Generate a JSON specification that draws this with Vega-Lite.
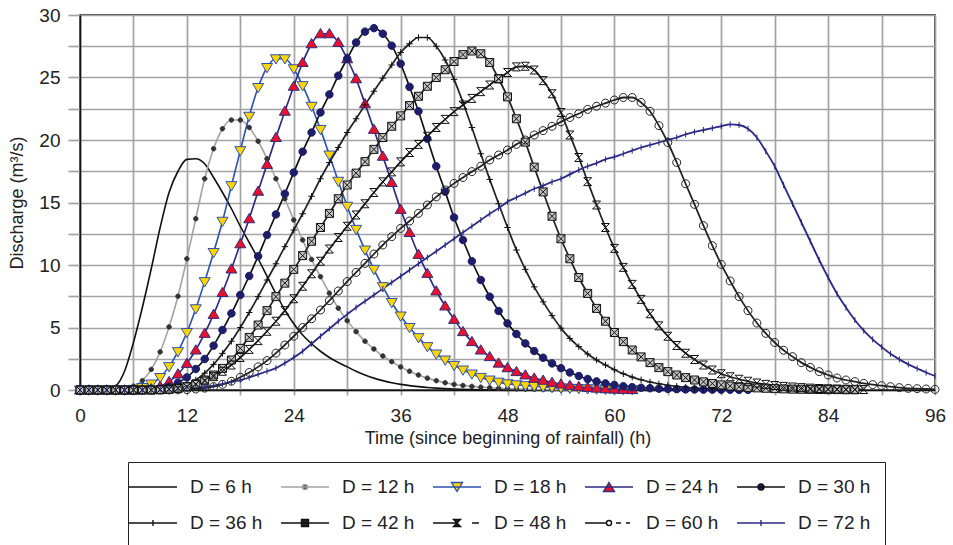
{
"$schema":"https://vega.github.io/schema/vega-lite/v6.json",
"width":855,"height":375,
"autosize":{"type":"none"},
"padding":{"left":80,"top":15,"right":18,"bottom":155},
"config":{"font":"Liberation Sans","view":{"stroke":"#111","strokeWidth":1.5},
"axis":{"gridColor":"#a3a3a3","gridWidth":1.7,"tickColor":"#a3a3a3","tickWidth":1.7,"domainColor":"#111","domainWidth":1.5,"labelFontSize":19,"labelColor":"#222","titleFontSize":18,"titleFontWeight":"normal","titleColor":"#222","labelFont":"Liberation Sans","titleFont":"Liberation Sans"}},
"data":{"values":[
{"D":6,"t":0,"q":0},{"D":6,"t":1,"q":0},{"D":6,"t":2,"q":0},{"D":6,"t":3,"q":0},{"D":6,"t":4,"q":0.3},{"D":6,"t":5,"q":1.5},{"D":6,"t":6,"q":3.8},{"D":6,"t":7,"q":6.6},{"D":6,"t":8,"q":9.7},{"D":6,"t":9,"q":13.0},{"D":6,"t":10,"q":15.8},{"D":6,"t":11,"q":17.5},{"D":6,"t":12,"q":18.45},{"D":6,"t":13,"q":18.5},{"D":6,"t":14,"q":18.1},{"D":6,"t":15,"q":17.0},{"D":6,"t":16,"q":15.8},{"D":6,"t":17,"q":14.5},{"D":6,"t":18,"q":13.1},{"D":6,"t":19,"q":11.8},{"D":6,"t":20,"q":10.5},{"D":6,"t":21,"q":9.1},{"D":6,"t":22,"q":7.7},{"D":6,"t":23,"q":6.4},{"D":6,"t":24,"q":5.3},{"D":6,"t":25,"q":4.4},{"D":6,"t":26,"q":3.7},{"D":6,"t":27,"q":3.1},{"D":6,"t":28,"q":2.6},{"D":6,"t":29,"q":2.2},{"D":6,"t":30,"q":1.85},{"D":6,"t":31,"q":1.5},{"D":6,"t":32,"q":1.2},{"D":6,"t":33,"q":0.95},{"D":6,"t":34,"q":0.75},{"D":6,"t":35,"q":0.58},{"D":6,"t":36,"q":0.45},{"D":6,"t":37,"q":0.35},{"D":6,"t":38,"q":0.27},{"D":6,"t":39,"q":0.2},{"D":6,"t":40,"q":0.15},{"D":6,"t":42,"q":0.08},{"D":6,"t":44,"q":0.04},{"D":6,"t":46,"q":0.02},{"D":6,"t":48,"q":0.01},{"D":6,"t":50,"q":0},
{"D":12,"t":0,"q":0},{"D":12,"t":1,"q":0},{"D":12,"t":2,"q":0},{"D":12,"t":3,"q":0},{"D":12,"t":4,"q":0},{"D":12,"t":5,"q":0.1},{"D":12,"t":6,"q":0.3},{"D":12,"t":7,"q":0.75},{"D":12,"t":8,"q":1.65},{"D":12,"t":9,"q":3.05},{"D":12,"t":10,"q":5.05},{"D":12,"t":11,"q":7.5},{"D":12,"t":12,"q":10.5},{"D":12,"t":13,"q":13.7},{"D":12,"t":14,"q":16.9},{"D":12,"t":15,"q":19.3},{"D":12,"t":16,"q":20.9},{"D":12,"t":17,"q":21.6},{"D":12,"t":18,"q":21.6},{"D":12,"t":19,"q":21.0},{"D":12,"t":20,"q":19.9},{"D":12,"t":21,"q":18.5},{"D":12,"t":22,"q":16.9},{"D":12,"t":23,"q":15.3},{"D":12,"t":24,"q":13.6},{"D":12,"t":25,"q":12.0},{"D":12,"t":26,"q":10.45},{"D":12,"t":27,"q":9.07},{"D":12,"t":28,"q":7.75},{"D":12,"t":29,"q":6.55},{"D":12,"t":30,"q":5.55},{"D":12,"t":31,"q":4.67},{"D":12,"t":32,"q":3.9},{"D":12,"t":33,"q":3.28},{"D":12,"t":34,"q":2.72},{"D":12,"t":35,"q":2.27},{"D":12,"t":36,"q":1.85},{"D":12,"t":37,"q":1.5},{"D":12,"t":38,"q":1.2},{"D":12,"t":39,"q":0.95},{"D":12,"t":40,"q":0.75},{"D":12,"t":41,"q":0.58},{"D":12,"t":42,"q":0.45},{"D":12,"t":43,"q":0.36},{"D":12,"t":44,"q":0.29},{"D":12,"t":45,"q":0.23},{"D":12,"t":46,"q":0.18},{"D":12,"t":47,"q":0.14},{"D":12,"t":48,"q":0.11},{"D":12,"t":49,"q":0.09},{"D":12,"t":50,"q":0.07},{"D":12,"t":51,"q":0.05},{"D":12,"t":52,"q":0.04},{"D":12,"t":53,"q":0.03},{"D":12,"t":54,"q":0.03},{"D":12,"t":55,"q":0.02},{"D":12,"t":56,"q":0.02},{"D":12,"t":57,"q":0.01},{"D":12,"t":58,"q":0.01},{"D":12,"t":59,"q":0.01},{"D":12,"t":60,"q":0},
{"D":18,"t":0,"q":0},{"D":18,"t":1,"q":0},{"D":18,"t":2,"q":0},{"D":18,"t":3,"q":0},{"D":18,"t":4,"q":0},{"D":18,"t":5,"q":0},{"D":18,"t":6,"q":0.05},{"D":18,"t":7,"q":0.2},{"D":18,"t":8,"q":0.48},{"D":18,"t":9,"q":1.0},{"D":18,"t":10,"q":1.87},{"D":18,"t":11,"q":3.07},{"D":18,"t":12,"q":4.6},{"D":18,"t":13,"q":6.5},{"D":18,"t":14,"q":8.67},{"D":18,"t":15,"q":11.0},{"D":18,"t":16,"q":13.5},{"D":18,"t":17,"q":16.35},{"D":18,"t":18,"q":19.15},{"D":18,"t":19,"q":21.9},{"D":18,"t":20,"q":24.2},{"D":18,"t":21,"q":25.8},{"D":18,"t":22,"q":26.5},{"D":18,"t":23,"q":26.5},{"D":18,"t":24,"q":25.7},{"D":18,"t":25,"q":24.35},{"D":18,"t":26,"q":22.7},{"D":18,"t":27,"q":20.85},{"D":18,"t":28,"q":18.8},{"D":18,"t":29,"q":16.7},{"D":18,"t":30,"q":14.7},{"D":18,"t":31,"q":12.85},{"D":18,"t":32,"q":11.2},{"D":18,"t":33,"q":9.65},{"D":18,"t":34,"q":8.27},{"D":18,"t":35,"q":7.0},{"D":18,"t":36,"q":5.92},{"D":18,"t":37,"q":5.0},{"D":18,"t":38,"q":4.19},{"D":18,"t":39,"q":3.47},{"D":18,"t":40,"q":2.88},{"D":18,"t":41,"q":2.4},{"D":18,"t":42,"q":1.97},{"D":18,"t":43,"q":1.6},{"D":18,"t":44,"q":1.28},{"D":18,"t":45,"q":1.01},{"D":18,"t":46,"q":0.8},{"D":18,"t":47,"q":0.63},{"D":18,"t":48,"q":0.5},{"D":18,"t":49,"q":0.42},{"D":18,"t":50,"q":0.35},{"D":18,"t":51,"q":0.3},{"D":18,"t":52,"q":0.25},{"D":18,"t":53,"q":0.21},{"D":18,"t":54,"q":0.17},{"D":18,"t":55,"q":0.14},{"D":18,"t":56,"q":0.12},{"D":18,"t":57,"q":0.1},{"D":18,"t":58,"q":0.08},{"D":18,"t":59,"q":0.06},{"D":18,"t":60,"q":0.05},{"D":18,"t":61,"q":0.04},{"D":18,"t":62,"q":0.03},
{"D":24,"t":0,"q":0},{"D":24,"t":1,"q":0},{"D":24,"t":2,"q":0},{"D":24,"t":3,"q":0},{"D":24,"t":4,"q":0},{"D":24,"t":5,"q":0},{"D":24,"t":6,"q":0},{"D":24,"t":7,"q":0.03},{"D":24,"t":8,"q":0.1},{"D":24,"t":9,"q":0.3},{"D":24,"t":10,"q":0.67},{"D":24,"t":11,"q":1.28},{"D":24,"t":12,"q":2.13},{"D":24,"t":13,"q":3.2},{"D":24,"t":14,"q":4.53},{"D":24,"t":15,"q":6.05},{"D":24,"t":16,"q":7.8},{"D":24,"t":17,"q":9.68},{"D":24,"t":18,"q":11.7},{"D":24,"t":19,"q":13.7},{"D":24,"t":20,"q":15.9},{"D":24,"t":21,"q":18.05},{"D":24,"t":22,"q":20.2},{"D":24,"t":23,"q":22.3},{"D":24,"t":24,"q":24.3},{"D":24,"t":25,"q":26.2},{"D":24,"t":26,"q":27.7},{"D":24,"t":27,"q":28.5},{"D":24,"t":28,"q":28.5},{"D":24,"t":29,"q":27.8},{"D":24,"t":30,"q":26.5},{"D":24,"t":31,"q":24.9},{"D":24,"t":32,"q":22.9},{"D":24,"t":33,"q":20.85},{"D":24,"t":34,"q":18.7},{"D":24,"t":35,"q":16.6},{"D":24,"t":36,"q":14.45},{"D":24,"t":37,"q":12.6},{"D":24,"t":38,"q":10.85},{"D":24,"t":39,"q":9.33},{"D":24,"t":40,"q":7.92},{"D":24,"t":41,"q":6.72},{"D":24,"t":42,"q":5.65},{"D":24,"t":43,"q":4.67},{"D":24,"t":44,"q":3.87},{"D":24,"t":45,"q":3.2},{"D":24,"t":46,"q":2.67},{"D":24,"t":47,"q":2.15},{"D":24,"t":48,"q":1.78},{"D":24,"t":49,"q":1.47},{"D":24,"t":50,"q":1.2},{"D":24,"t":51,"q":0.95},{"D":24,"t":52,"q":0.78},{"D":24,"t":53,"q":0.61},{"D":24,"t":54,"q":0.48},{"D":24,"t":55,"q":0.37},{"D":24,"t":56,"q":0.28},{"D":24,"t":57,"q":0.21},{"D":24,"t":58,"q":0.15},{"D":24,"t":59,"q":0.1},{"D":24,"t":60,"q":0.07},{"D":24,"t":61,"q":0.05},{"D":24,"t":62,"q":0.03},
{"D":30,"t":0,"q":0},{"D":30,"t":1,"q":0},{"D":30,"t":2,"q":0},{"D":30,"t":3,"q":0},{"D":30,"t":4,"q":0},{"D":30,"t":5,"q":0},{"D":30,"t":6,"q":0},{"D":30,"t":7,"q":0},{"D":30,"t":8,"q":0.03},{"D":30,"t":9,"q":0.1},{"D":30,"t":10,"q":0.27},{"D":30,"t":11,"q":0.59},{"D":30,"t":12,"q":1.01},{"D":30,"t":13,"q":1.68},{"D":30,"t":14,"q":2.48},{"D":30,"t":15,"q":3.55},{"D":30,"t":16,"q":4.8},{"D":30,"t":17,"q":6.13},{"D":30,"t":18,"q":7.6},{"D":30,"t":19,"q":9.12},{"D":30,"t":20,"q":10.7},{"D":30,"t":21,"q":12.4},{"D":30,"t":22,"q":14.05},{"D":30,"t":23,"q":15.7},{"D":30,"t":24,"q":17.4},{"D":30,"t":25,"q":19.07},{"D":30,"t":26,"q":20.6},{"D":30,"t":27,"q":22.2},{"D":30,"t":28,"q":23.65},{"D":30,"t":29,"q":25.15},{"D":30,"t":30,"q":26.5},{"D":30,"t":31,"q":27.8},{"D":30,"t":32,"q":28.67},{"D":30,"t":33,"q":28.95},{"D":30,"t":34,"q":28.5},{"D":30,"t":35,"q":27.55},{"D":30,"t":36,"q":26.1},{"D":30,"t":37,"q":24.25},{"D":30,"t":38,"q":22.3},{"D":30,"t":39,"q":20.1},{"D":30,"t":40,"q":17.9},{"D":30,"t":41,"q":15.87},{"D":30,"t":42,"q":13.8},{"D":30,"t":43,"q":12.0},{"D":30,"t":44,"q":10.3},{"D":30,"t":45,"q":8.8},{"D":30,"t":46,"q":7.47},{"D":30,"t":47,"q":6.32},{"D":30,"t":48,"q":5.33},{"D":30,"t":49,"q":4.48},{"D":30,"t":50,"q":3.73},{"D":30,"t":51,"q":3.12},{"D":30,"t":52,"q":2.58},{"D":30,"t":53,"q":2.13},{"D":30,"t":54,"q":1.75},{"D":30,"t":55,"q":1.4},{"D":30,"t":56,"q":1.12},{"D":30,"t":57,"q":0.88},{"D":30,"t":58,"q":0.69},{"D":30,"t":59,"q":0.53},{"D":30,"t":60,"q":0.4},{"D":30,"t":61,"q":0.3},{"D":30,"t":62,"q":0.23},{"D":30,"t":63,"q":0.18},{"D":30,"t":64,"q":0.14},{"D":30,"t":65,"q":0.11},{"D":30,"t":66,"q":0.09},{"D":30,"t":67,"q":0.07},{"D":30,"t":68,"q":0.05},{"D":30,"t":69,"q":0.04},{"D":30,"t":70,"q":0.03},{"D":30,"t":71,"q":0.03},{"D":30,"t":72,"q":0.02},{"D":30,"t":73,"q":0.02},{"D":30,"t":74,"q":0.01},{"D":30,"t":75,"q":0.01},
{"D":36,"t":0,"q":0},{"D":36,"t":1,"q":0},{"D":36,"t":2,"q":0},{"D":36,"t":3,"q":0},{"D":36,"t":4,"q":0},{"D":36,"t":5,"q":0},{"D":36,"t":6,"q":0},{"D":36,"t":7,"q":0},{"D":36,"t":8,"q":0},{"D":36,"t":9,"q":0.02},{"D":36,"t":10,"q":0.08},{"D":36,"t":11,"q":0.2},{"D":36,"t":12,"q":0.42},{"D":36,"t":13,"q":0.8},{"D":36,"t":14,"q":1.35},{"D":36,"t":15,"q":2.05},{"D":36,"t":16,"q":2.93},{"D":36,"t":17,"q":3.9},{"D":36,"t":18,"q":5.0},{"D":36,"t":19,"q":6.2},{"D":36,"t":20,"q":7.47},{"D":36,"t":21,"q":8.8},{"D":36,"t":22,"q":10.1},{"D":36,"t":23,"q":11.47},{"D":36,"t":24,"q":12.8},{"D":36,"t":25,"q":14.1},{"D":36,"t":26,"q":15.5},{"D":36,"t":27,"q":16.9},{"D":36,"t":28,"q":18.2},{"D":36,"t":29,"q":19.4},{"D":36,"t":30,"q":20.6},{"D":36,"t":31,"q":21.7},{"D":36,"t":32,"q":22.8},{"D":36,"t":33,"q":23.9},{"D":36,"t":34,"q":24.95},{"D":36,"t":35,"q":26.0},{"D":36,"t":36,"q":27.0},{"D":36,"t":37,"q":27.7},{"D":36,"t":38,"q":28.2},{"D":36,"t":39,"q":28.2},{"D":36,"t":40,"q":27.5},{"D":36,"t":41,"q":26.4},{"D":36,"t":42,"q":24.85},{"D":36,"t":43,"q":23.0},{"D":36,"t":44,"q":21.0},{"D":36,"t":45,"q":18.9},{"D":36,"t":46,"q":16.85},{"D":36,"t":47,"q":14.9},{"D":36,"t":48,"q":13.0},{"D":36,"t":49,"q":11.2},{"D":36,"t":50,"q":9.65},{"D":36,"t":51,"q":8.25},{"D":36,"t":52,"q":7.05},{"D":36,"t":53,"q":5.95},{"D":36,"t":54,"q":4.95},{"D":36,"t":55,"q":4.13},{"D":36,"t":56,"q":3.47},{"D":36,"t":57,"q":2.88},{"D":36,"t":58,"q":2.4},{"D":36,"t":59,"q":2.0},{"D":36,"t":60,"q":1.62},{"D":36,"t":61,"q":1.3},{"D":36,"t":62,"q":1.03},{"D":36,"t":63,"q":0.82},{"D":36,"t":64,"q":0.64},{"D":36,"t":65,"q":0.5},{"D":36,"t":66,"q":0.38},{"D":36,"t":67,"q":0.29},{"D":36,"t":68,"q":0.22},{"D":36,"t":69,"q":0.16},{"D":36,"t":70,"q":0.12},{"D":36,"t":71,"q":0.09},{"D":36,"t":72,"q":0.07},
{"D":42,"t":0,"q":0},{"D":42,"t":1,"q":0},{"D":42,"t":2,"q":0},{"D":42,"t":3,"q":0},{"D":42,"t":4,"q":0},{"D":42,"t":5,"q":0},{"D":42,"t":6,"q":0},{"D":42,"t":7,"q":0},{"D":42,"t":8,"q":0},{"D":42,"t":9,"q":0.03},{"D":42,"t":10,"q":0.07},{"D":42,"t":11,"q":0.15},{"D":42,"t":12,"q":0.27},{"D":42,"t":13,"q":0.48},{"D":42,"t":14,"q":0.8},{"D":42,"t":15,"q":1.2},{"D":42,"t":16,"q":1.73},{"D":42,"t":17,"q":2.4},{"D":42,"t":18,"q":3.33},{"D":42,"t":19,"q":4.21},{"D":42,"t":20,"q":5.2},{"D":42,"t":21,"q":6.35},{"D":42,"t":22,"q":7.47},{"D":42,"t":23,"q":8.55},{"D":42,"t":24,"q":9.65},{"D":42,"t":25,"q":10.75},{"D":42,"t":26,"q":11.9},{"D":42,"t":27,"q":13.0},{"D":42,"t":28,"q":14.13},{"D":42,"t":29,"q":15.3},{"D":42,"t":30,"q":16.4},{"D":42,"t":31,"q":17.35},{"D":42,"t":32,"q":18.27},{"D":42,"t":33,"q":19.25},{"D":42,"t":34,"q":20.2},{"D":42,"t":35,"q":21.1},{"D":42,"t":36,"q":21.93},{"D":42,"t":37,"q":22.75},{"D":42,"t":38,"q":23.5},{"D":42,"t":39,"q":24.3},{"D":42,"t":40,"q":25.0},{"D":42,"t":41,"q":25.62},{"D":42,"t":42,"q":26.28},{"D":42,"t":43,"q":26.83},{"D":42,"t":44,"q":27.12},{"D":42,"t":45,"q":26.9},{"D":42,"t":46,"q":26.2},{"D":42,"t":47,"q":24.9},{"D":42,"t":48,"q":23.45},{"D":42,"t":49,"q":21.7},{"D":42,"t":50,"q":19.83},{"D":42,"t":51,"q":17.83},{"D":42,"t":52,"q":15.85},{"D":42,"t":53,"q":13.9},{"D":42,"t":54,"q":12.1},{"D":42,"t":55,"q":10.5},{"D":42,"t":56,"q":9.0},{"D":42,"t":57,"q":7.73},{"D":42,"t":58,"q":6.53},{"D":42,"t":59,"q":5.5},{"D":42,"t":60,"q":4.6},{"D":42,"t":61,"q":3.87},{"D":42,"t":62,"q":3.2},{"D":42,"t":63,"q":2.65},{"D":42,"t":64,"q":2.19},{"D":42,"t":65,"q":1.79},{"D":42,"t":66,"q":1.47},{"D":42,"t":67,"q":1.2},{"D":42,"t":68,"q":0.99},{"D":42,"t":69,"q":0.8},{"D":42,"t":70,"q":0.65},{"D":42,"t":71,"q":0.52},{"D":42,"t":72,"q":0.41},{"D":42,"t":73,"q":0.32},{"D":42,"t":74,"q":0.26},{"D":42,"t":75,"q":0.21},{"D":42,"t":76,"q":0.17},{"D":42,"t":77,"q":0.14},{"D":42,"t":78,"q":0.11},{"D":42,"t":79,"q":0.09},{"D":42,"t":80,"q":0.07},{"D":42,"t":81,"q":0.06},{"D":42,"t":82,"q":0.05},{"D":42,"t":83,"q":0.04},{"D":42,"t":84,"q":0.03},{"D":42,"t":85,"q":0.03},{"D":42,"t":86,"q":0.02},{"D":42,"t":87,"q":0.02},
{"D":48,"t":0,"q":0},{"D":48,"t":1,"q":0},{"D":48,"t":2,"q":0},{"D":48,"t":3,"q":0},{"D":48,"t":4,"q":0},{"D":48,"t":5,"q":0},{"D":48,"t":6,"q":0},{"D":48,"t":7,"q":0},{"D":48,"t":8,"q":0},{"D":48,"t":9,"q":0.02},{"D":48,"t":10,"q":0.05},{"D":48,"t":11,"q":0.12},{"D":48,"t":12,"q":0.25},{"D":48,"t":13,"q":0.45},{"D":48,"t":14,"q":0.72},{"D":48,"t":15,"q":1.07},{"D":48,"t":16,"q":1.5},{"D":48,"t":17,"q":2.0},{"D":48,"t":18,"q":2.6},{"D":48,"t":19,"q":3.25},{"D":48,"t":20,"q":3.95},{"D":48,"t":21,"q":4.7},{"D":48,"t":22,"q":5.5},{"D":48,"t":23,"q":6.35},{"D":48,"t":24,"q":7.3},{"D":48,"t":25,"q":8.3},{"D":48,"t":26,"q":9.3},{"D":48,"t":27,"q":10.3},{"D":48,"t":28,"q":11.28},{"D":48,"t":29,"q":12.2},{"D":48,"t":30,"q":13.1},{"D":48,"t":31,"q":14.0},{"D":48,"t":32,"q":14.9},{"D":48,"t":33,"q":15.8},{"D":48,"t":34,"q":16.65},{"D":48,"t":35,"q":17.45},{"D":48,"t":36,"q":18.25},{"D":48,"t":37,"q":19.0},{"D":48,"t":38,"q":19.65},{"D":48,"t":39,"q":20.3},{"D":48,"t":40,"q":21.0},{"D":48,"t":41,"q":21.65},{"D":48,"t":42,"q":22.27},{"D":48,"t":43,"q":22.8},{"D":48,"t":44,"q":23.33},{"D":48,"t":45,"q":23.87},{"D":48,"t":46,"q":24.4},{"D":48,"t":47,"q":24.9},{"D":48,"t":48,"q":25.4},{"D":48,"t":49,"q":25.85},{"D":48,"t":50,"q":25.9},{"D":48,"t":51,"q":25.6},{"D":48,"t":52,"q":24.75},{"D":48,"t":53,"q":23.7},{"D":48,"t":54,"q":22.2},{"D":48,"t":55,"q":20.4},{"D":48,"t":56,"q":18.6},{"D":48,"t":57,"q":16.67},{"D":48,"t":58,"q":14.8},{"D":48,"t":59,"q":13.0},{"D":48,"t":60,"q":11.33},{"D":48,"t":61,"q":9.81},{"D":48,"t":62,"q":8.45},{"D":48,"t":63,"q":7.25},{"D":48,"t":64,"q":6.1},{"D":48,"t":65,"q":5.13},{"D":48,"t":66,"q":4.3},{"D":48,"t":67,"q":3.56},{"D":48,"t":68,"q":2.94},{"D":48,"t":69,"q":2.44},{"D":48,"t":70,"q":2.0},{"D":48,"t":71,"q":1.6},{"D":48,"t":72,"q":1.3},{"D":48,"t":73,"q":1.06},{"D":48,"t":74,"q":0.86},{"D":48,"t":75,"q":0.7},{"D":48,"t":76,"q":0.56},{"D":48,"t":77,"q":0.45},{"D":48,"t":78,"q":0.36},{"D":48,"t":79,"q":0.29},{"D":48,"t":80,"q":0.24},{"D":48,"t":81,"q":0.19},{"D":48,"t":82,"q":0.15},{"D":48,"t":83,"q":0.12},{"D":48,"t":84,"q":0.1},{"D":48,"t":85,"q":0.08},{"D":48,"t":86,"q":0.06},{"D":48,"t":87,"q":0.05},{"D":48,"t":88,"q":0.04},
{"D":60,"t":0,"q":0},{"D":60,"t":1,"q":0},{"D":60,"t":2,"q":0},{"D":60,"t":3,"q":0},{"D":60,"t":4,"q":0},{"D":60,"t":5,"q":0},{"D":60,"t":6,"q":0},{"D":60,"t":7,"q":0},{"D":60,"t":8,"q":0},{"D":60,"t":9,"q":0},{"D":60,"t":10,"q":0},{"D":60,"t":11,"q":0.01},{"D":60,"t":12,"q":0.03},{"D":60,"t":13,"q":0.08},{"D":60,"t":14,"q":0.15},{"D":60,"t":15,"q":0.27},{"D":60,"t":16,"q":0.45},{"D":60,"t":17,"q":0.7},{"D":60,"t":18,"q":1.02},{"D":60,"t":19,"q":1.4},{"D":60,"t":20,"q":1.85},{"D":60,"t":21,"q":2.35},{"D":60,"t":22,"q":2.95},{"D":60,"t":23,"q":3.6},{"D":60,"t":24,"q":4.3},{"D":60,"t":25,"q":5.0},{"D":60,"t":26,"q":5.7},{"D":60,"t":27,"q":6.4},{"D":60,"t":28,"q":7.15},{"D":60,"t":29,"q":7.92},{"D":60,"t":30,"q":8.67},{"D":60,"t":31,"q":9.41},{"D":60,"t":32,"q":10.13},{"D":60,"t":33,"q":10.88},{"D":60,"t":34,"q":11.6},{"D":60,"t":35,"q":12.27},{"D":60,"t":36,"q":12.93},{"D":60,"t":37,"q":13.52},{"D":60,"t":38,"q":14.13},{"D":60,"t":39,"q":14.8},{"D":60,"t":40,"q":15.45},{"D":60,"t":41,"q":16.0},{"D":60,"t":42,"q":16.53},{"D":60,"t":43,"q":17.0},{"D":60,"t":44,"q":17.47},{"D":60,"t":45,"q":17.9},{"D":60,"t":46,"q":18.4},{"D":60,"t":47,"q":18.8},{"D":60,"t":48,"q":19.2},{"D":60,"t":49,"q":19.65},{"D":60,"t":50,"q":20.0},{"D":60,"t":51,"q":20.4},{"D":60,"t":52,"q":20.75},{"D":60,"t":53,"q":21.1},{"D":60,"t":54,"q":21.45},{"D":60,"t":55,"q":21.8},{"D":60,"t":56,"q":22.1},{"D":60,"t":57,"q":22.45},{"D":60,"t":58,"q":22.7},{"D":60,"t":59,"q":22.95},{"D":60,"t":60,"q":23.2},{"D":60,"t":61,"q":23.4},{"D":60,"t":62,"q":23.4},{"D":60,"t":63,"q":23.0},{"D":60,"t":64,"q":22.3},{"D":60,"t":65,"q":21.15},{"D":60,"t":66,"q":19.8},{"D":60,"t":67,"q":18.2},{"D":60,"t":68,"q":16.5},{"D":60,"t":69,"q":14.85},{"D":60,"t":70,"q":13.15},{"D":60,"t":71,"q":11.55},{"D":60,"t":72,"q":10.05},{"D":60,"t":73,"q":8.72},{"D":60,"t":74,"q":7.47},{"D":60,"t":75,"q":6.35},{"D":60,"t":76,"q":5.36},{"D":60,"t":77,"q":4.53},{"D":60,"t":78,"q":3.8},{"D":60,"t":79,"q":3.18},{"D":60,"t":80,"q":2.67},{"D":60,"t":81,"q":2.19},{"D":60,"t":82,"q":1.81},{"D":60,"t":83,"q":1.47},{"D":60,"t":84,"q":1.2},{"D":60,"t":85,"q":0.96},{"D":60,"t":86,"q":0.8},{"D":60,"t":87,"q":0.67},{"D":60,"t":88,"q":0.53},{"D":60,"t":89,"q":0.43},{"D":60,"t":90,"q":0.35},{"D":60,"t":91,"q":0.27},{"D":60,"t":92,"q":0.19},{"D":60,"t":93,"q":0.13},{"D":60,"t":94,"q":0.11},{"D":60,"t":95,"q":0.08},{"D":60,"t":96,"q":0.05},
{"D":72,"t":0,"q":0},{"D":72,"t":1,"q":0},{"D":72,"t":2,"q":0},{"D":72,"t":3,"q":0},{"D":72,"t":4,"q":0},{"D":72,"t":5,"q":0},{"D":72,"t":6,"q":0},{"D":72,"t":7,"q":0},{"D":72,"t":8,"q":0},{"D":72,"t":9,"q":0.02},{"D":72,"t":10,"q":0.05},{"D":72,"t":11,"q":0.08},{"D":72,"t":12,"q":0.12},{"D":72,"t":13,"q":0.18},{"D":72,"t":14,"q":0.25},{"D":72,"t":15,"q":0.35},{"D":72,"t":16,"q":0.48},{"D":72,"t":17,"q":0.63},{"D":72,"t":18,"q":0.8},{"D":72,"t":19,"q":1.0},{"D":72,"t":20,"q":1.25},{"D":72,"t":21,"q":1.5},{"D":72,"t":22,"q":1.75},{"D":72,"t":23,"q":2.15},{"D":72,"t":24,"q":2.6},{"D":72,"t":25,"q":3.1},{"D":72,"t":26,"q":3.7},{"D":72,"t":27,"q":4.3},{"D":72,"t":28,"q":4.9},{"D":72,"t":29,"q":5.5},{"D":72,"t":30,"q":6.05},{"D":72,"t":31,"q":6.6},{"D":72,"t":32,"q":7.1},{"D":72,"t":33,"q":7.6},{"D":72,"t":34,"q":8.1},{"D":72,"t":35,"q":8.6},{"D":72,"t":36,"q":9.1},{"D":72,"t":37,"q":9.6},{"D":72,"t":38,"q":10.1},{"D":72,"t":39,"q":10.6},{"D":72,"t":40,"q":11.1},{"D":72,"t":41,"q":11.6},{"D":72,"t":42,"q":12.1},{"D":72,"t":43,"q":12.6},{"D":72,"t":44,"q":13.1},{"D":72,"t":45,"q":13.6},{"D":72,"t":46,"q":14.1},{"D":72,"t":47,"q":14.55},{"D":72,"t":48,"q":15.05},{"D":72,"t":49,"q":15.4},{"D":72,"t":50,"q":15.75},{"D":72,"t":51,"q":16.1},{"D":72,"t":52,"q":16.35},{"D":72,"t":53,"q":16.65},{"D":72,"t":54,"q":16.9},{"D":72,"t":55,"q":17.25},{"D":72,"t":56,"q":17.6},{"D":72,"t":57,"q":17.9},{"D":72,"t":58,"q":18.15},{"D":72,"t":59,"q":18.45},{"D":72,"t":60,"q":18.65},{"D":72,"t":61,"q":18.9},{"D":72,"t":62,"q":19.15},{"D":72,"t":63,"q":19.4},{"D":72,"t":64,"q":19.6},{"D":72,"t":65,"q":19.8},{"D":72,"t":66,"q":20.0},{"D":72,"t":67,"q":20.2},{"D":72,"t":68,"q":20.45},{"D":72,"t":69,"q":20.65},{"D":72,"t":70,"q":20.8},{"D":72,"t":71,"q":20.95},{"D":72,"t":72,"q":21.1},{"D":72,"t":73,"q":21.25},{"D":72,"t":74,"q":21.2},{"D":72,"t":75,"q":20.9},{"D":72,"t":76,"q":20.2},{"D":72,"t":77,"q":19.1},{"D":72,"t":78,"q":17.9},{"D":72,"t":79,"q":16.4},{"D":72,"t":80,"q":14.9},{"D":72,"t":81,"q":13.4},{"D":72,"t":82,"q":11.9},{"D":72,"t":83,"q":10.4},{"D":72,"t":84,"q":9.0},{"D":72,"t":85,"q":7.7},{"D":72,"t":86,"q":6.6},{"D":72,"t":87,"q":5.6},{"D":72,"t":88,"q":4.75},{"D":72,"t":89,"q":4.05},{"D":72,"t":90,"q":3.45},{"D":72,"t":91,"q":2.9},{"D":72,"t":92,"q":2.45},{"D":72,"t":93,"q":2.05},{"D":72,"t":94,"q":1.72},{"D":72,"t":95,"q":1.4},{"D":72,"t":96,"q":1.12}
]},
"encoding":{
"x":{"field":"t","type":"quantitative","title":"Time (since beginning of rainfall) (h)","scale":{"domain":[0,96],"nice":false},
"axis":{"values":[0,6,12,18,24,30,36,42,48,54,60,66,72,78,84,90,96],"labelExpr":"datum.value % 12 === 0 ? datum.label : ''","tickSize":5,"labelPadding":11,"titlePadding":4,"labelFlush":false}},
"y":{"field":"q","type":"quantitative","title":"Discharge (m³/s)","scale":{"domain":[0,30],"nice":false},
"axis":{"values":[0,2.5,5,7.5,10,12.5,15,17.5,20,22.5,25,27.5,30],"labelExpr":"datum.value % 5 === 0 ? datum.label : ''","tickSize":12,"labelPadding":8,"titlePadding":12}}
},
"layer":[
{"mark":{"type":"line","interpolate":"monotone"},
"encoding":{
"stroke":{"field":"D","type":"nominal","legend":null,"scale":{"domain":[6,12,18,24,30,36,42,48,60,72],"range":["#111111","#a3a3a3","#2f52b0","#2c2c80","#111111","#222222","#222222","#222222","#222222","#2a2a85"]}},
"strokeWidth":{"field":"D","type":"ordinal","legend":null,"scale":{"domain":[6,12,18,24,30,36,42,48,60,72],"range":[1.6,1.8,1.5,1.5,2.0,1.0,1.0,1.0,1.0,1.3]}}
}},
{"transform":[{"filter":"datum.D != 6"}],
"mark":{"type":"point","filled":true,"strokeWidth":1,"opacity":1,"size":100},
"encoding":{
"shape":{"field":"D","type":"nominal","legend":null,"scale":{"domain":[12,18,24,30,36,42,48,60,72],"range":["M-0.45,0A0.45,0.45,0,1,1,0.45,0A0.45,0.45,0,1,1,-0.45,0Z","M-1.1,-0.8H1.1L0,1.05Z","M-1.1,0.8H1.1L0,-1.05Z","M-0.75,0A0.75,0.75,0,1,1,0.75,0A0.75,0.75,0,1,1,-0.75,0Z","M0,-0.65V0.65M-0.65,0H0.65","M-0.8,-0.8H0.8V0.8H-0.8ZM-0.8,-0.8L0.8,0.8M0.8,-0.8L-0.8,0.8","M-0.8,-0.8H0.8L-0.8,0.8H0.8Z","M-0.8,0A0.8,0.8,0,1,1,0.8,0A0.8,0.8,0,1,1,-0.8,0Z","M0,-0.6V0.6"]}},
"fill":{"field":"D","type":"nominal","legend":null,"scale":{"domain":[12,18,24,30,36,42,48,60,72],"range":["#333333","#ffd500","#e8102c","#1d1d6a","transparent","#c4c4c4","transparent","transparent","transparent"]}},
"stroke":{"field":"D","type":"nominal","legend":null,"scale":{"domain":[12,18,24,30,36,42,48,60,72],"range":["#333333","#2f52b0","#2c2c80","#1d1d6a","#111111","#111111","#111111","#222222","#2a2a85"]}}
}},
{"transform":[{"filter":"datum.t < 0"}],
"mark":{"type":"point","filled":true},
"encoding":{
"shape":{"field":"D","type":"nominal","scale":{"domain":[6,12,18,24,30,36,42,48,60,72],"range":["M-2.4,0H2.4","M-2.4,0H2.4M-0.25,0A0.25,0.25,0,1,1,0.25,0A0.25,0.25,0,1,1,-0.25,0Z","M-2.4,0H2.4M-0.55,-0.45H0.55L0,0.45Z","M-2.4,0H2.4M-0.55,0.45H0.55L0,-0.45Z","M-2.4,0H2.4M-0.3,0A0.3,0.3,0,1,1,0.3,0A0.3,0.3,0,1,1,-0.3,0Z","M-2.4,0H2.4M0,-0.3V0.3","M-2.4,0H2.4M-0.35,-0.35H0.35V0.35H-0.35Z","M-2.4,0H0M1.5,0H2.2M-0.35,-0.35H0.35L-0.35,0.35H0.35Z","M-2.4,0H-0.25M0.7,0H1.2M1.7,0H2.1M-0.25,0A0.25,0.25,0,1,1,0.25,0A0.25,0.25,0,1,1,-0.25,0Z","M-2.4,0H2.4M0,-0.3V0.3"]},
"legend":{"orient":"none","legendX":48,"legendY":447,"columns":5,"direction":"horizontal","title":null,"symbolSize":400,"symbolStrokeWidth":1.4,"labelFontSize":19,"labelFont":"Liberation Sans","labelColor":"#222","labelOffset":26,"columnPadding":15,"rowPadding":15,"padding":14,"strokeColor":"#222","labelExpr":"'D = ' + datum.label + ' h'","symbolOpacity":1}},
"fill":{"field":"D","type":"nominal","scale":{"domain":[6,12,18,24,30,36,42,48,60,72],"range":["transparent","#333333","#ffd500","#e8102c","#1d1d6a","transparent","#222222","#222222","#ffffff","transparent"]}},
"stroke":{"field":"D","type":"nominal","scale":{"domain":[6,12,18,24,30,36,42,48,60,72],"range":["#111111","#a3a3a3","#2f52b0","#2c2c80","#111111","#111111","#111111","#111111","#111111","#2a2a85"]}}
}}
],
"resolve":{"scale":{"stroke":"independent","fill":"independent","shape":"independent","strokeWidth":"independent"},"legend":{"stroke":"independent","fill":"independent","shape":"independent","strokeWidth":"independent"}}
}
